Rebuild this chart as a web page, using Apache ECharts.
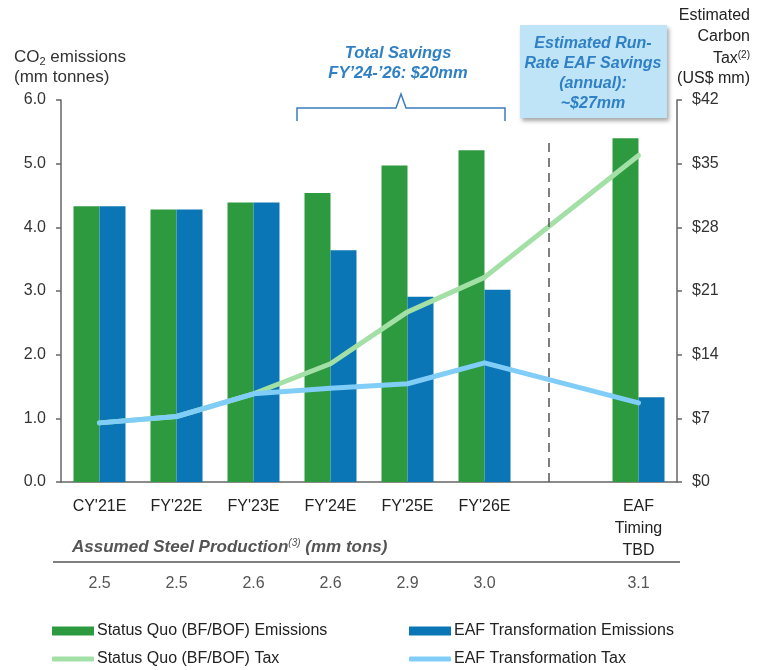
<!DOCTYPE html>
<html>
<head>
<meta charset="utf-8">
<script src="https://cdn.jsdelivr.net/npm/echarts@6/dist/echarts.min.js"></script>
<style>
  html, body { margin: 0; padding: 0; background: #fff; }
  #chart { width: 766px; height: 670px; }
</style>
</head>
<body>
<div id="chart"></div>
<script>
// categories (blank slot holds the dashed divider)
var categories = ["CY'21E", "FY'22E", "FY'23E", "FY'24E", "FY'25E", "FY'26E", "", "EAF\nTiming\nTBD"];
// CO2 emissions, mm tonnes
var statusQuoEmissions = [4.33, 4.28, 4.39, 4.54, 4.97, 5.21, null, 5.40];
var eafEmissions       = [4.33, 4.28, 4.39, 3.64, 2.91, 3.02, null, 1.33];
// carbon tax, US$ mm
var statusQuoTax = [6.5, 7.2, 9.7, 13.0, 18.7, 22.5, null, 35.9];
var eafTax       = [6.5, 7.2, 9.7, 10.3, 10.8, 13.1, null, 8.7];
// assumed steel production, mm tons
var steelProduction = ['2.5', '2.5', '2.6', '2.6', '2.9', '3.0', '', '3.1'];

var GREEN = '#2e9a3f', BLUE = '#0b76b6', LGREEN = '#a3e0a6', LBLUE = '#80cdf7';
var NOTE = '#2f80c4', FONT = 'Liberation Sans, Arial, sans-serif';

var chart = echarts.init(document.getElementById('chart'));

function legendAt(name, left, top, icon, h) {
    return {
        data: [name], left: left, top: top, icon: icon, padding: 0,
        itemWidth: 42, itemHeight: h, itemGap: 0,
        selectedMode: false,
        textStyle: { fontFamily: FONT, fontSize: 16, color: '#222', padding: [0, 0, 0, -2] }
    };
}

function noteLine(text, y) {
    return { type: 'text', x: 750, y: y, style: {
        text: text, align: 'right', fontFamily: FONT, fontSize: 16, fill: '#222'
    } };
}

var option = {
    animation: false,
    backgroundColor: '#fff',
    grid: { left: 61, right: 89, top: 100, bottom: 188 },
    legend: [
        legendAt('Status Quo (BF/BOF) Emissions', 52, 623, 'rect', 9),
        legendAt('EAF Transformation Emissions', 409, 623, 'rect', 9),
        legendAt('Status Quo (BF/BOF) Tax', 52, 651, 'roundRect', 5),
        legendAt('EAF Transformation Tax', 409, 651, 'roundRect', 5)
    ],
    xAxis: [{
        type: 'category',
        data: categories,
        axisLine: { lineStyle: { color: '#666', width: 1.5 } },
        axisTick: { length: 5, lineStyle: { color: '#666', width: 1.5 } },
        axisLabel: { color: '#222', fontFamily: FONT, fontSize: 16, margin: 14, lineHeight: 22 }
    }, {
        type: 'category',
        position: 'bottom',
        data: steelProduction,
        axisLine: { show: false },
        axisTick: { show: false },
        axisLabel: { color: '#555', fontFamily: FONT, fontSize: 16, margin: 94 }
    }],
    yAxis: [{
        type: 'value', min: 0, max: 6, interval: 1,
        axisLine: { show: true, lineStyle: { color: '#666', width: 1.5 } },
        axisTick: { show: true, length: 5, lineStyle: { color: '#666', width: 1.5 } },
        splitLine: { show: false },
        axisLabel: { color: '#333', fontFamily: FONT, fontSize: 16, margin: 15,
            formatter: function (v) { return v.toFixed(1); } }
    }, {
        type: 'value', min: 0, max: 42, interval: 7,
        axisLine: { show: true, lineStyle: { color: '#666', width: 1.5 } },
        axisTick: { show: true, length: 5, lineStyle: { color: '#666', width: 1.5 } },
        splitLine: { show: false },
        axisLabel: { color: '#333', fontFamily: FONT, fontSize: 16, margin: 15,
            formatter: function (v) { return '$' + v; } }
    }],
    series: [
        {
            name: 'Status Quo (BF/BOF) Emissions', type: 'bar',
            data: statusQuoEmissions, barWidth: 26, barGap: 0,
            itemStyle: { color: GREEN },
            markLine: {
                silent: true, symbol: 'none', label: { show: false },
                lineStyle: { color: '#555', width: 1.5, type: [9, 6] },
                data: [[{ coord: [6, 0] }, { coord: [6, 5.35] }]]
            }
        },
        {
            name: 'EAF Transformation Emissions', type: 'bar',
            data: eafEmissions, barWidth: 26, barGap: 0,
            itemStyle: { color: BLUE }
        },
        {
            name: 'Status Quo (BF/BOF) Tax', type: 'line', yAxisIndex: 1,
            data: statusQuoTax, connectNulls: true, symbol: 'none',
            lineStyle: { color: LGREEN, width: 5, cap: 'round', join: 'round' },
            itemStyle: { color: LGREEN }, z: 3
        },
        {
            name: 'EAF Transformation Tax', type: 'line', yAxisIndex: 1,
            data: eafTax, connectNulls: true, symbol: 'none',
            lineStyle: { color: LBLUE, width: 5, cap: 'round', join: 'round' },
            itemStyle: { color: LBLUE }, z: 4
        }
    ],
    graphic: [
        // left axis title
        { type: 'text', left: 14, top: 47, style: {
            text: '{a|CO}{s|2}{a| emissions}\n{a|(mm tonnes)}',
            rich: {
                a: { fontFamily: FONT, fontSize: 17, fill: '#333', lineHeight: 20 },
                s: { fontFamily: FONT, fontSize: 11, fill: '#333', padding: [9, 0, 0, 0], lineHeight: 20 }
            }
        } },
        // right axis title, right aligned line by line
        noteLine('Estimated', 8),
        noteLine('Carbon', 29),
        { type: 'text', x: 750, y: 50, style: {
            text: '{a|Tax}{p|(2)}', align: 'right',
            rich: {
                a: { fontFamily: FONT, fontSize: 16, fill: '#222' },
                p: { fontFamily: FONT, fontSize: 10, fill: '#222', padding: [0, 0, 8, 0] }
            }
        } },
        noteLine('(US$ mm)', 71),
        // total savings note
        { type: 'text', x: 398, y: 43, style: {
            text: 'Total Savings\nFY\u201924-\u201926: $20mm',
            align: 'center', fontFamily: FONT, fontSize: 16.5, fontWeight: 'bold',
            fontStyle: 'italic', fill: NOTE, lineHeight: 20
        } },
        { type: 'polyline', shape: { points: [[297, 121], [297, 108], [396, 108], [401, 94], [406, 108], [505, 108], [505, 121]] },
          style: { stroke: '#3a7dbf', lineWidth: 1.5, fill: null } },
        // run-rate box
        { type: 'rect', shape: { x: 520, y: 25, width: 147, height: 93 },
          style: { fill: '#bfe4f8', shadowBlur: 4, shadowOffsetX: 2, shadowOffsetY: 3, shadowColor: 'rgba(0,0,0,0.35)' } },
        { type: 'text', x: 593, y: 34, style: {
            text: 'Estimated Run-\nRate EAF Savings\n(annual):\n~$27mm',
            align: 'center', fontFamily: FONT, fontSize: 16, fontWeight: 'bold',
            fontStyle: 'italic', fill: NOTE, lineHeight: 20
        } },
        // steel production caption and rule
        { type: 'text', x: 72, y: 538, style: {
            text: '{t|Assumed Steel Production}{p|(3)}{t| (mm tons)}',
            rich: {
                t: { fontFamily: FONT, fontSize: 17, fontWeight: 'bold', fontStyle: 'italic', fill: '#555' },
                p: { fontFamily: FONT, fontSize: 10, fontStyle: 'italic', fill: '#555', padding: [0, 0, 9, 0] }
            }
        } },
        { type: 'line', shape: { x1: 53, y1: 562, x2: 680, y2: 562 },
          style: { stroke: '#555', lineWidth: 1.5 } }
    ]
};

chart.setOption(option);
</script>
</body>
</html>
